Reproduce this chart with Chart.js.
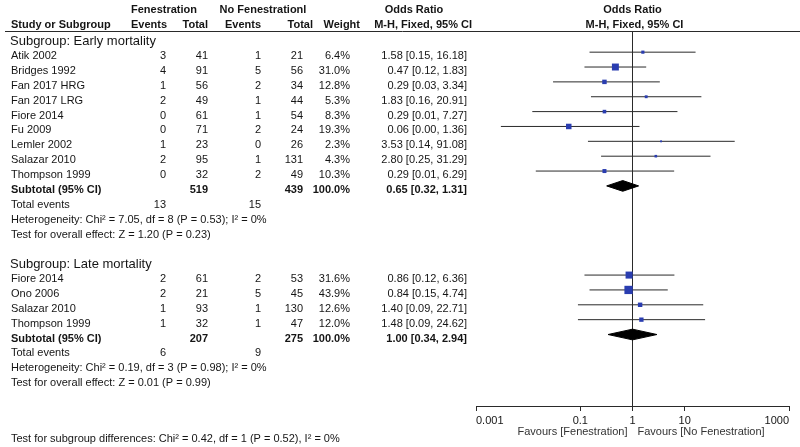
<!DOCTYPE html>
<html>
<head>
<meta charset="utf-8">
<script src="https://cdn.jsdelivr.net/npm/chart.js@4/dist/chart.umd.min.js"></script>
<style>
html,body{margin:0;padding:0;background:#fff;}
canvas{display:block;}
</style>
</head>
<body>
<canvas id="c" width="800" height="447"></canvas>
<script>
// ---------- data ----------
const earlyStudies   = ['Atik 2002','Bridges 1992','Fan 2017 HRG','Fan 2017 LRG','Fiore 2014','Fu 2009','Lemler 2002','Salazar 2010','Thompson 1999'];
const earlyFenEvents = [3,4,1,2,0,0,1,2,0];
const earlyFenTotal  = [41,91,56,49,61,71,23,95,32];
const earlyNoEvents  = [1,5,2,1,1,2,0,1,2];
const earlyNoTotal   = [21,56,34,44,54,24,26,131,49];
const earlyWeight    = [6.4,31.0,12.8,5.3,8.3,19.3,2.3,4.3,10.3];
const earlyOR        = [1.58,0.47,0.29,1.83,0.29,0.06,3.53,2.80,0.29];
const earlyLow       = [0.15,0.12,0.03,0.16,0.012,0.003,0.14,0.25,0.014];
const earlyHigh      = [16.18,1.83,3.34,20.91,7.27,1.36,91.08,31.29,6.29];
const earlySubtotal  = {fenTotal:519, noTotal:439, weight:100.0, or:0.65, low:0.32, high:1.31, fenEvents:13, noEvents:15};
const earlyHet       = 'Heterogeneity: Chi\u00B2 = 7.05, df = 8 (P = 0.53); I\u00B2 = 0%';
const earlyTest      = 'Test for overall effect: Z = 1.20 (P = 0.23)';

const lateStudies    = ['Fiore 2014','Ono 2006','Salazar 2010','Thompson 1999'];
const lateFenEvents  = [2,2,1,1];
const lateFenTotal   = [61,21,93,32];
const lateNoEvents   = [2,5,1,1];
const lateNoTotal    = [53,45,130,47];
const lateWeight     = [31.6,43.9,12.6,12.0];
const lateOR         = [0.86,0.84,1.40,1.48];
const lateLow        = [0.12,0.15,0.09,0.09];
const lateHigh       = [6.36,4.74,22.71,24.62];
const lateSubtotal   = {fenTotal:207, noTotal:275, weight:100.0, or:1.00, low:0.34, high:2.94, fenEvents:6, noEvents:9};
const lateHet        = 'Heterogeneity: Chi\u00B2 = 0.19, df = 3 (P = 0.98); I\u00B2 = 0%';
const lateTest       = 'Test for overall effect: Z = 0.01 (P = 0.99)';

const subgroupDiff   = 'Test for subgroup differences: Chi\u00B2 = 0.42, df = 1 (P = 0.52), I\u00B2 = 0%';
const xTicks         = [0.001, 0.1, 1, 10, 1000];

// ---------- layout (rows) ----------
const Y_MIN = -0.424, Y_MAX = 24.81;
const groups = [
  {title:'Subgroup: Early mortality', start:0, studies:earlyStudies, fe:earlyFenEvents, ft:earlyFenTotal, ne:earlyNoEvents, nt:earlyNoTotal, w:earlyWeight, or:earlyOR, lo:earlyLow, hi:earlyHigh, sub:earlySubtotal, het:earlyHet, test:earlyTest},
  {title:'Subgroup: Late mortality', start:15, studies:lateStudies, fe:lateFenEvents, ft:lateFenTotal, ne:lateNoEvents, nt:lateNoTotal, w:lateWeight, or:lateOR, lo:lateLow, hi:lateHigh, sub:lateSubtotal, het:lateHet, test:lateTest}
];

const BLUE = '#2a3db0';
const INK = '#151515';
const ciSets = [], sqPts = [], sqRad = [], diamondSets = [];
groups.forEach(g => {
  g.studies.forEach((s, i) => {
    const row = g.start + 1 + i;
    ciSets.push({type:'line', data:[{x:g.lo[i], y:row},{x:g.hi[i], y:row}], borderColor:'#2a2a2a', borderWidth:1, pointRadius:0, order:2, fill:false});
    sqPts.push({x:g.or[i], y:row});
    sqRad.push(Math.max(1.3, 1.25*Math.sqrt(g.w[i]) / Math.SQRT2));
  });
  const r = g.start + 1 + g.studies.length;
  const h = 0.36;
  diamondSets.push({type:'line', data:[{x:g.sub.low,y:r},{x:g.sub.or,y:r-h},{x:g.sub.high,y:r},{x:g.sub.or,y:r+h},{x:g.sub.low,y:r}],
    borderColor:'#000', backgroundColor:'#000', borderWidth:1, pointRadius:0, fill:'shape', order:1, tension:0});
});

const datasets = [
  {type:'scatter', data:sqPts, pointStyle:'rect', pointRadius:sqRad, backgroundColor:BLUE, borderColor:BLUE, borderWidth:0, order:0},
  ...diamondSets,
  ...ciSets,
  {type:'line', data:[{x:1,y:Y_MIN},{x:1,y:Y_MAX}], borderColor:'#2a2a2a', borderWidth:1, pointRadius:0, order:3, fill:false}
];

// ---------- text plugin ----------
const FONT = '"Liberation Sans", Arial, sans-serif';
function txt(ctx, s, x, y, align, bold, size, color){
  ctx.font = (bold ? 'bold ' : '') + (size || 11) + 'px ' + FONT;
  ctx.textAlign = align; ctx.textBaseline = 'middle';
  ctx.fillStyle = color || INK;
  ctx.fillText(s, x, y);
}
const tablePlugin = {
  id:'table',
  afterDraw(chart){
    const ctx = chart.ctx, ys = chart.scales.y, xs = chart.scales.x;
    const ry = r => ys.getPixelForValue(r) + 4;
    ctx.save();
    // header
    txt(ctx,'Fenestration',164,10,'center',true);
    txt(ctx,'No Fenestrationl',263,10,'center',true);
    txt(ctx,'Odds Ratio',414,10,'center',true);
    txt(ctx,'Odds Ratio',xs.getPixelForValue(1),10,'center',true);
    txt(ctx,'Study or Subgroup',11,25,'left',true);
    txt(ctx,'Events',167,25,'right',true);
    txt(ctx,'Total',208,25,'right',true);
    txt(ctx,'Events',261,25,'right',true);
    txt(ctx,'Total',313,25,'right',true);
    txt(ctx,'Weight',360,25,'right',true);
    txt(ctx,'M-H, Fixed, 95% CI',472,25,'right',true);
    txt(ctx,'M-H, Fixed, 95% CI',xs.getPixelForValue(1)+2,25,'center',true);
    ctx.strokeStyle = '#2a2a2a'; ctx.lineWidth = 1;
    ctx.beginPath(); ctx.moveTo(5, 31.5); ctx.lineTo(800, 31.5); ctx.stroke();
    const ci = (o,l,h) => o.toFixed(2)+' ['+l.toFixed(2)+', '+h.toFixed(2)+']';
    groups.forEach(g => {
      txt(ctx, g.title, 10, ry(g.start), 'left', false, 13);
      g.studies.forEach((s,i) => {
        const y = ry(g.start+1+i);
        txt(ctx, s, 11, y, 'left');
        txt(ctx, String(g.fe[i]), 166, y, 'right');
        txt(ctx, String(g.ft[i]), 208, y, 'right');
        txt(ctx, String(g.ne[i]), 261, y, 'right');
        txt(ctx, String(g.nt[i]), 303, y, 'right');
        txt(ctx, g.w[i].toFixed(1)+'%', 350, y, 'right');
        txt(ctx, ci(g.or[i],g.lo[i],g.hi[i]), 467, y, 'right');
      });
      const r = g.start + 1 + g.studies.length;
      let y = ry(r);
      txt(ctx,'Subtotal (95% CI)',11,y,'left',true);
      txt(ctx,String(g.sub.fenTotal),208,y,'right',true);
      txt(ctx,String(g.sub.noTotal),303,y,'right',true);
      txt(ctx,g.sub.weight.toFixed(1)+'%',350,y,'right',true);
      txt(ctx,ci(g.sub.or,g.sub.low,g.sub.high),467,y,'right',true);
      y = ry(r+1);
      txt(ctx,'Total events',11,y,'left');
      txt(ctx,String(g.sub.fenEvents),166,y,'right');
      txt(ctx,String(g.sub.noEvents),261,y,'right');
      txt(ctx,g.het,11,ry(r+2),'left');
      txt(ctx,g.test,11,ry(r+3),'left');
    });
    txt(ctx, subgroupDiff, 11, 439, 'left');
    const x1 = xs.getPixelForValue(1);
    txt(ctx,'Favours [Fenestration]', x1-5, 432, 'right', false, 11, '#333');
    txt(ctx,'Favours [No Fenestration]', x1+5, 432, 'left', false, 11, '#333');
    ctx.restore();
  }
};

new Chart(document.getElementById('c'), {
  type:'scatter',
  data:{datasets},
  options:{
    responsive:false, animation:false, devicePixelRatio:1,
    layout:{padding:{top:31, left:476, right:11, bottom:11}},
    plugins:{legend:{display:false}, tooltip:{enabled:false}},
    scales:{
      x:{type:'logarithmic', min:0.001, max:1000, bounds:'data', position:'bottom',
         afterBuildTicks: s => { s.ticks = xTicks.map(v => ({value:v})); },
         afterFit: s => { s.height = 30; },
         ticks:{align:'inner', autoSkip:false, maxRotation:0, padding:3, color:INK, font:{family:FONT, size:11},
                callback: v => String(v)},
         grid:{display:true, drawOnChartArea:false, drawTicks:true, tickLength:5, color:'#2a2a2a'},
         border:{display:true, color:'#2a2a2a', width:1}},
      y:{type:'linear', min:Y_MIN, max:Y_MAX, reverse:true, bounds:'data', display:false}
    }
  },
  plugins:[tablePlugin]
});
</script>
</body>
</html>
